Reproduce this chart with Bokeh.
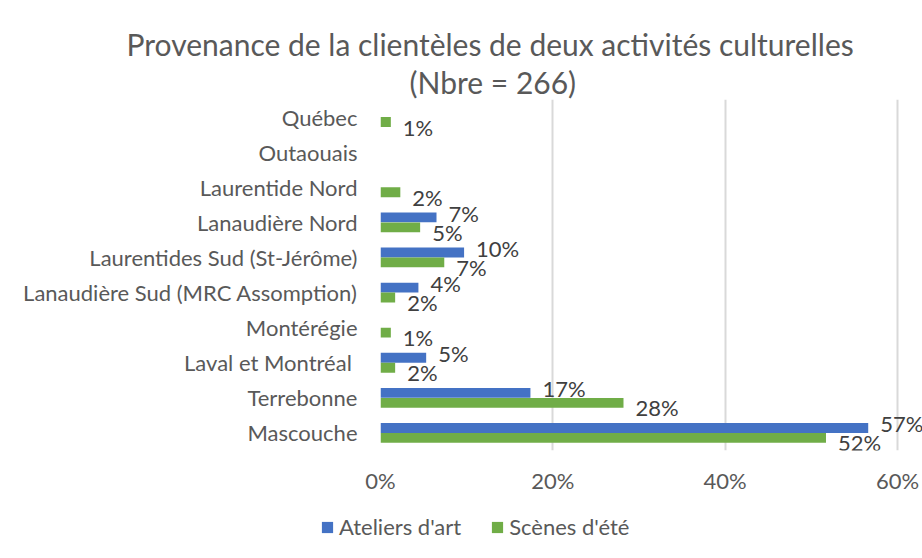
from bokeh.plotting import figure
from bokeh.models import (ColumnDataSource, FactorRange, LabelSet, Legend, LegendItem,
                          PrintfTickFormatter, FixedTicker, Title)
from bokeh.layouts import column
from bokeh.core.properties import value
from bokeh.transform import dodge
from bokeh.embed import file_html
from bokeh.resources import INLINE

# Categories, top to bottom as in the chart
categories = ["Québec", "Outaouais", "Laurentide Nord", "Lanaudière Nord",
              "Laurentides Sud (St-Jérôme)", "Lanaudière Sud (MRC Assomption)",
              "Montérégie", "Laval et Montréal ", "Terrebonne", "Mascouche"]
ateliers = [0, 0, 0, 6.5, 9.7, 4.4, 0, 5.3, 17.4, 56.6]
scenes = [1.2, 0, 2.3, 4.6, 7.4, 1.7, 1.2, 1.7, 28.2, 51.7]
ateliers_labels = ["", "", "", "7%", "10%", "4%", "", "5%", "17%", "57%"]
scenes_labels = ["1%", "", "2%", "5%", "7%", "2%", "1%", "2%", "28%", "52%"]
series_names = ["Ateliers d'art", "Scènes d'été"]
x_ticks = [0, 20, 40, 60]

FONT = "Lato"
TXT = "#595959"
BLUE = "#4472C4"
GREEN = "#70AD47"

factors = list(reversed(categories))
p = figure(width=922, height=500, y_range=FactorRange(*factors), x_range=(0, 62.9),
           output_backend="svg", toolbar_location=None,
           min_border_left=380, min_border_right=0, min_border_top=99, min_border_bottom=50)
p.frame_align = False

src = ColumnDataSource(dict(cat=categories, a=ateliers, s=scenes))
p.hbar(y=dodge("cat", 0.142, range=p.y_range), right="a", left=0, height=0.28,
       source=src, fill_color=BLUE, line_color=None)
p.hbar(y=dodge("cat", -0.142, range=p.y_range), right="s", left=0, height=0.28,
       source=src, fill_color=GREEN, line_color=None)

la = ColumnDataSource(dict(cat=[c for c, t in zip(categories, ateliers_labels) if t],
                           v=[v for v, t in zip(ateliers, ateliers_labels) if t],
                           t=[t for t in ateliers_labels if t]))
ls = ColumnDataSource(dict(cat=[c for c, t in zip(categories, scenes_labels) if t],
                           v=[v for v, t in zip(scenes, scenes_labels) if t],
                           t=[t for t in scenes_labels if t]))
for s, dy, yo in ((la, 0.142, 4), (ls, -0.142, -5)):
    p.add_layout(LabelSet(x="v", y=dodge("cat", dy, range=p.y_range), text="t", source=s,
                          x_offset=12, y_offset=yo, text_align="left", text_baseline="middle",
                          text_font=value(FONT), text_font_size="22px", text_color="#404040"))

# Title lines (the added Title sits closest to the frame)
p.title.text = "Provenance de la clientèles de deux activités culturelles"
p.title.align = "left"
p.title.offset = -254
p.title.text_font = FONT
p.title.text_font_size = "30px"
p.title.text_font_style = "normal"
p.title.text_color = TXT
p.title.standoff = 0
p.add_layout(Title(text="(Nbre = 266)", align="left", offset=29, text_font=FONT,
                   text_font_size="30px", text_font_style="normal", text_color=TXT,
                   standoff=0), "above")

p.yaxis.axis_line_color = None
p.yaxis.major_tick_line_color = None
p.yaxis.minor_tick_line_color = None
p.yaxis.major_label_text_font = FONT
p.yaxis.major_label_text_font_size = "22px"
p.yaxis.major_label_text_color = TXT
p.yaxis.major_label_standoff = 17

p.xaxis.ticker = FixedTicker(ticks=x_ticks)
p.xaxis.formatter = PrintfTickFormatter(format="%d%%")
p.xaxis.axis_line_color = None
p.xaxis.major_tick_line_color = None
p.xaxis.minor_tick_line_color = None
p.xaxis.major_label_text_font = FONT
p.xaxis.major_label_text_font_size = "22px"
p.xaxis.major_label_text_color = TXT
p.xaxis.major_label_standoff = 10

p.ygrid.grid_line_color = None
p.xgrid.grid_line_color = "#d9d9d9"
p.xgrid.grid_line_width = 2
p.outline_line_color = None

# Legend strip below the chart
lf = figure(width=922, height=58, x_range=(0, 1), y_range=(0, 1),
            x_axis_type=None, y_axis_type=None,
            output_backend="svg", toolbar_location=None,
            min_border_left=0, min_border_right=0, min_border_top=0, min_border_bottom=0)
lf.frame_align = False
lf.grid.visible = False
lf.outline_line_color = None
offscreen = ColumnDataSource(dict(y=[-5], r=[0]))
r1 = lf.hbar(y="y", right="r", height=0.5, source=offscreen, fill_color=BLUE, line_color=None)
r2 = lf.hbar(y="y", right="r", height=0.5, source=offscreen, fill_color=GREEN, line_color=None)
legend = Legend(items=[LegendItem(label=series_names[0], renderers=[r1]),
                       LegendItem(label=series_names[1], renderers=[r2])],
                orientation="horizontal", location=(320, 18), padding=0, margin=0,
                spacing=29, glyph_width=14, glyph_height=14, label_standoff=5,
                label_text_font=FONT, label_text_font_size="22px", label_text_color=TXT,
                border_line_color=None, background_fill_alpha=0)
lf.add_layout(legend, "center")

layout = column(p, lf, spacing=0)
open("out.html", "w").write(file_html(layout, INLINE))
